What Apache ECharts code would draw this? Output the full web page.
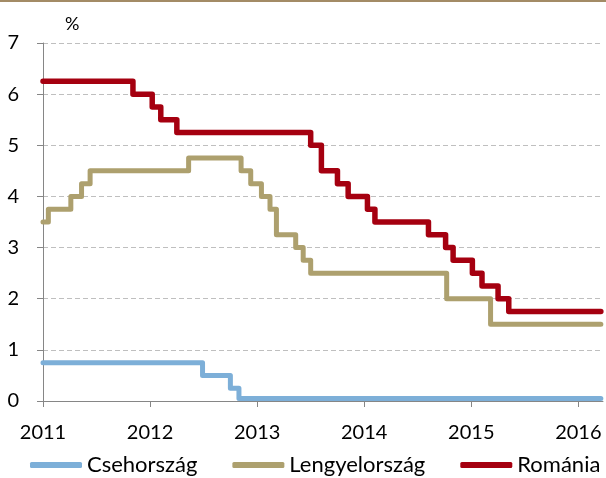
<!DOCTYPE html>
<html>
<head>
<meta charset="utf-8">
<script src="https://cdn.jsdelivr.net/npm/echarts@6/dist/echarts.min.js"></script>
<style>html,body{margin:0;padding:0;background:#fff}#c{width:606px;height:478px}</style>
</head>
<body>
<div id="c"></div>
<script>
// Change dates (decimal years) and policy rates (%); each rate holds until the next date
const czDates = [2011.0, 2012.49, 2012.75, 2012.83, 2016.21];
const czRates = [0.75, 0.5, 0.25, 0.05, 0.05];

const plDates = [2011.0, 2011.05, 2011.26, 2011.36, 2011.44, 2012.36, 2012.85, 2012.94, 2013.04, 2013.12, 2013.18, 2013.36, 2013.43, 2013.5, 2014.77, 2015.18, 2016.21];
const plRates = [3.5, 3.75, 4.0, 4.25, 4.5, 4.75, 4.5, 4.25, 4.0, 3.75, 3.25, 3.0, 2.75, 2.5, 2.0, 1.5, 1.5];

const roDates = [2011.0, 2011.84, 2012.02, 2012.1, 2012.25, 2013.5, 2013.6, 2013.75, 2013.85, 2014.03, 2014.1, 2014.6, 2014.76, 2014.83, 2015.01, 2015.1, 2015.25, 2015.35, 2016.21];
const roRates = [6.25, 6.0, 5.75, 5.5, 5.25, 5.0, 4.5, 4.25, 4.0, 3.75, 3.5, 3.25, 3.0, 2.75, 2.5, 2.25, 2.0, 1.75, 1.75];

const seriesNames = ['Csehország', 'Lengyelország', 'Románia'];
const yearTicks = [2011, 2012, 2013, 2014, 2015, 2016];

const zip = (xs, ys) => xs.map((x, i) => [x, ys[i]]);
const FONT = 'Lato';

const chart = echarts.init(document.getElementById('c'), null, {renderer: 'canvas'});
chart.setOption({
  animation: false,
  backgroundColor: '#fff',
  textStyle: {fontFamily: FONT},
  grid: {left: 43, right: 3, top: 43, bottom: 77, containLabel: false},
  graphic: [{
    type: 'rect', left: 0, top: 0, shape: {width: 606, height: 2},
    style: {fill: '#A38B66'}
  }],
  xAxis: {
    type: 'value', min: 2011, max: 2016.23,
    axisLine: {lineStyle: {color: '#868686', width: 1}},
    axisTick: {show: true, length: 6, lineStyle: {color: '#868686'}, customValues: yearTicks},
    axisLabel: {customValues: yearTicks, color: '#000', fontSize: 20, fontFamily: FONT, margin: 22, formatter: v => String(Math.round(v))},
    splitLine: {show: false}
  },
  yAxis: {
    type: 'value', min: 0, max: 7, interval: 1,
    name: '%', nameLocation: 'end', nameGap: 10,
    nameTextStyle: {color: '#000', fontSize: 18, fontFamily: FONT, align: 'left', padding: [0, 0, 0, 22]},
    axisLine: {show: true, lineStyle: {color: '#868686', width: 1}},
    axisTick: {show: true, length: 6, lineStyle: {color: '#868686'}},
    axisLabel: {color: '#000', fontSize: 20, fontFamily: FONT, margin: 24},
    splitLine: {show: true, lineStyle: {color: '#BFBFBF', type: [5, 3], width: 1}}
  },
  legend: {
    left: 30, top: 454, padding: 0, itemWidth: 52, itemHeight: 6, itemGap: 35,
    icon: 'roundRect',
    textStyle: {color: '#000', fontSize: 22, fontFamily: FONT},
    data: seriesNames
  },
  series: [
    {name: seriesNames[0], type: 'line', step: 'end', data: zip(czDates, czRates), showSymbol: false,
     lineStyle: {color: '#7DAFD8', width: 5, cap: 'round', join: 'round'}, itemStyle: {color: '#7DAFD8'}},
    {name: seriesNames[1], type: 'line', step: 'end', data: zip(plDates, plRates), showSymbol: false,
     lineStyle: {color: '#ADA06E', width: 5, cap: 'round', join: 'round'}, itemStyle: {color: '#ADA06E'}},
    {name: seriesNames[2], type: 'line', step: 'end', data: zip(roDates, roRates), showSymbol: false,
     lineStyle: {color: '#A50010', width: 5.5, cap: 'round', join: 'round'}, itemStyle: {color: '#A50010'}}
  ]
});
</script>
</body>
</html>
